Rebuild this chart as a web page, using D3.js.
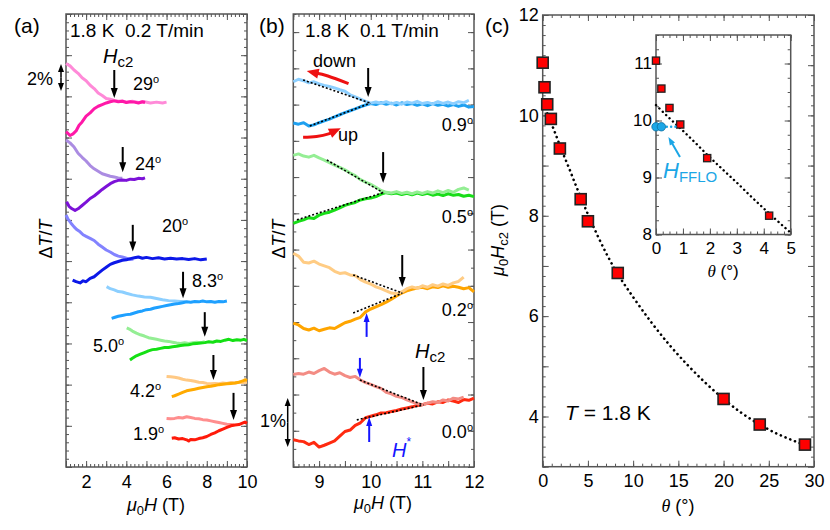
<!DOCTYPE html>
<html><head><meta charset="utf-8">
<script src="https://cdn.jsdelivr.net/npm/d3@7"></script>
<style>
body{margin:0;background:#fff}
svg{display:block}
text{font-family:"Liberation Sans",Arial,Helvetica,sans-serif;white-space:pre}
</style>
</head><body><svg id="chart" width="830" height="530"></svg>
<script>
// ---------------- DATA ----------------
// Panel (a): ΔT/T (offset, arb. units) vs μ0H (T); "down" = field-decreasing sweep (light), "up" = field-increasing sweep (dark)
const aAngles = ["29", "24", "20", "8.3", "5.0", "4.2", "1.9"];
const down29 = [[1.0,9.80],[1.2,9.74],[1.4,9.64],[1.6,9.56],[1.8,9.45],[2.0,9.38],[2.2,9.27],[2.4,9.19],[2.6,9.08],[2.8,9.02],[3.0,8.95],[3.2,8.93],[3.4,8.90],[3.6,8.88],[3.8,8.89],[4.0,8.86],[4.3,8.88],[4.6,8.85],[4.9,8.87],[5.2,8.84],[5.5,8.86],[5.8,8.84],[6.0,8.86]];
const up29 = [[1.0,8.14],[1.1,8.10],[1.2,8.05],[1.35,8.09],[1.5,8.16],[1.65,8.30],[1.8,8.38],[2.0,8.52],[2.2,8.60],[2.4,8.70],[2.6,8.76],[2.8,8.80],[3.0,8.84],[3.2,8.87],[3.4,8.89],[3.6,8.87],[3.8,8.88],[4.0,8.85],[4.2,8.87],[4.4,8.86],[4.6,8.84],[4.8,8.87],[4.93,8.85]];
const down24 = [[1.0,7.94],[1.2,7.87],[1.4,7.77],[1.6,7.62],[1.8,7.52],[2.0,7.43],[2.2,7.32],[2.4,7.24],[2.6,7.18],[2.8,7.12],[3.0,7.09],[3.2,7.06],[3.4,7.04],[3.6,7.02],[3.8,7.01]];
const up24 = [[1.03,6.44],[1.15,6.33],[1.3,6.27],[1.45,6.23],[1.6,6.27],[1.8,6.35],[2.0,6.43],[2.2,6.52],[2.4,6.58],[2.6,6.66],[2.8,6.74],[3.0,6.81],[3.2,6.88],[3.4,6.93],[3.6,6.96],[3.8,6.97],[4.0,6.96],[4.2,6.99],[4.4,6.98],[4.6,7.01],[4.8,7.00],[4.93,7.02]];
const down20 = [[1.0,6.12],[1.1,6.02],[1.25,5.92],[1.4,5.83],[1.55,5.76],[1.7,5.71],[1.85,5.64],[2.0,5.60],[2.2,5.55],[2.4,5.50],[2.6,5.41],[2.8,5.34],[3.0,5.27],[3.2,5.22],[3.4,5.16],[3.6,5.12],[3.8,5.10],[4.0,5.07],[4.2,5.04],[4.35,5.05]];
const up20 = [[1.33,4.54],[1.5,4.50],[1.7,4.47],[1.85,4.52],[2.0,4.50],[2.2,4.58],[2.4,4.62],[2.6,4.70],[2.8,4.78],[3.0,4.85],[3.2,4.92],[3.4,4.96],[3.6,4.99],[3.8,5.02],[4.0,5.03],[4.2,5.06],[4.4,5.08],[4.6,5.10],[4.8,5.07],[5.0,5.09],[5.3,5.06],[5.6,5.08],[5.9,5.05],[6.2,5.07],[6.5,5.05],[6.8,5.06],[7.1,5.04],[7.4,5.06],[7.7,5.03],[8.0,5.05]];
const down83 = [[3.02,4.38],[3.2,4.33],[3.4,4.30],[3.6,4.26],[3.8,4.25],[4.0,4.22],[4.3,4.18],[4.6,4.15],[4.9,4.13],[5.2,4.12],[5.5,4.09],[5.8,4.06],[6.1,4.04],[6.4,4.03],[6.7,4.02],[7.0,4.02]];
const up83 = [[3.27,3.61],[3.4,3.63],[3.6,3.66],[3.8,3.68],[4.0,3.70],[4.2,3.71],[4.4,3.74],[4.6,3.77],[4.8,3.79],[5.0,3.82],[5.2,3.83],[5.4,3.86],[5.6,3.88],[5.8,3.90],[6.0,3.92],[6.2,3.94],[6.4,3.96],[6.6,3.97],[6.8,3.99],[7.0,4.01],[7.2,4.00],[7.4,4.02],[7.6,4.01],[7.8,4.03],[8.0,4.01],[8.2,4.02],[8.4,4.00],[8.6,4.02],[8.8,4.01],[9.0,4.03]];
const down50 = [[4.02,3.38],[4.15,3.35],[4.3,3.30],[4.5,3.25],[4.7,3.21],[4.9,3.18],[5.1,3.14],[5.3,3.12],[5.5,3.10],[5.7,3.08],[5.9,3.06],[6.1,3.05],[6.3,3.03],[6.5,3.01],[6.7,3.00],[6.9,3.02],[7.1,3.00],[7.3,3.02],[7.5,3.03],[7.7,3.02],[7.9,3.04]];
const up50 = [[4.18,2.60],[4.3,2.64],[4.5,2.70],[4.7,2.74],[4.9,2.78],[5.1,2.82],[5.3,2.85],[5.5,2.86],[5.7,2.88],[5.9,2.90],[6.1,2.90],[6.3,2.92],[6.5,2.93],[6.7,2.95],[6.9,2.96],[7.1,2.97],[7.3,2.99],[7.5,3.00],[7.7,3.01],[7.9,3.02],[8.1,3.04],[8.3,3.03],[8.5,3.06],[8.7,3.05],[8.9,3.08],[9.1,3.10],[9.3,3.07],[9.5,3.09],[9.7,3.08],[9.85,3.10],[10.0,3.07]];
const down42 = [[6.0,2.20],[6.2,2.19],[6.4,2.18],[6.6,2.16],[6.8,2.13],[7.0,2.11],[7.2,2.10],[7.4,2.08],[7.6,2.06],[7.8,2.05],[8.0,2.03],[8.2,2.02],[8.4,2.03],[8.6,2.02],[8.8,2.04],[9.0,2.03],[9.2,2.05],[9.4,2.04],[9.6,2.06],[9.8,2.05],[10.0,2.06]];
const up42 = [[6.26,1.71],[6.4,1.73],[6.6,1.77],[6.8,1.81],[7.0,1.85],[7.2,1.87],[7.4,1.89],[7.6,1.91],[7.8,1.93],[8.0,1.95],[8.2,1.96],[8.4,1.98],[8.6,2.00],[8.8,2.01],[9.0,2.02],[9.2,2.03],[9.4,2.04],[9.6,2.06],[9.8,2.09],[9.9,2.12],[10.0,2.10]];
const down19 = [[6.0,1.18],[6.2,1.17],[6.4,1.18],[6.6,1.20],[6.8,1.19],[7.0,1.22],[7.2,1.20],[7.4,1.18],[7.6,1.17],[7.8,1.15],[8.0,1.14],[8.2,1.12],[8.4,1.10],[8.6,1.08],[8.8,1.06],[9.0,1.04],[9.2,1.03],[9.35,1.02]];
const up19 = [[6.26,0.70],[6.4,0.71],[6.6,0.68],[6.8,0.69],[7.0,0.66],[7.1,0.63],[7.2,0.67],[7.4,0.66],[7.6,0.69],[7.8,0.71],[8.0,0.74],[8.2,0.79],[8.4,0.83],[8.6,0.88],[8.8,0.92],[9.0,0.96],[9.2,1.00],[9.4,1.02],[9.6,1.03],[9.8,1.07],[9.9,1.09],[10.0,1.06]];
const aHc2 = [3.40, 3.82, 4.32, 6.82, 7.90, 8.33, 9.33];          // arrow field (T)
const aArrowTop = [9.64, 7.77, 5.88, 4.74, 3.76, 2.72, 1.80];
const aArrowTip = [8.96, 7.16, 5.23, 4.10, 3.16, 2.11, 1.14];

// Panel (b)
const bAngles = ["0.9", "0.5", "0.2", "0.0"];
const down09 = [[8.5,10.63],[8.6,10.70],[8.7,10.66],[8.8,10.60],[8.9,10.63],[9.0,10.57],[9.1,10.53],[9.2,10.50],[9.3,10.46],[9.4,10.41],[9.5,10.37],[9.6,10.27],[9.7,10.21],[9.8,10.15],[9.9,10.09],[10.0,10.04],[10.1,10.07],[10.2,10.03],[10.3,10.08],[10.4,10.02],[10.5,10.06],[10.6,10.01],[10.7,10.07],[10.8,10.04],[10.9,10.09],[11.0,10.03],[11.1,10.06],[11.2,10.02],[11.3,10.08],[11.4,10.03],[11.5,10.07],[11.6,10.02],[11.7,10.08],[11.8,10.05],[11.9,10.12]];
const up09 = [[8.5,9.49],[8.6,9.46],[8.7,9.50],[8.8,9.41],[8.9,9.44],[9.0,9.50],[9.1,9.55],[9.2,9.60],[9.3,9.66],[9.4,9.72],[9.5,9.78],[9.6,9.83],[9.7,9.88],[9.8,9.94],[9.9,9.99],[10.0,10.03],[10.1,10.00],[10.2,10.05],[10.3,10.01],[10.4,10.04],[10.5,9.99],[10.6,10.05],[10.7,10.00],[10.8,10.03],[10.9,9.98],[11.0,10.02],[11.1,9.97],[11.2,10.03],[11.3,9.98],[11.4,10.01],[11.5,9.96],[11.6,10.00],[11.7,9.95],[11.8,9.99],[11.9,9.93],[12.0,9.95]];
const down05 = [[8.5,8.60],[8.6,8.64],[8.7,8.58],[8.8,8.55],[8.9,8.60],[9.0,8.53],[9.1,8.47],[9.2,8.40],[9.3,8.33],[9.4,8.27],[9.5,8.20],[9.6,8.11],[9.7,8.04],[9.8,7.93],[9.9,7.86],[10.0,7.80],[10.1,7.72],[10.2,7.63],[10.3,7.58],[10.4,7.56],[10.5,7.60],[10.6,7.55],[10.7,7.58],[10.8,7.54],[10.9,7.59],[11.0,7.55],[11.1,7.60],[11.2,7.56],[11.3,7.62],[11.4,7.57],[11.5,7.63],[11.6,7.58],[11.7,7.66],[11.8,7.70],[11.9,7.64]];
const up05 = [[8.5,6.72],[8.6,6.78],[8.7,6.82],[8.8,6.88],[8.9,6.86],[9.0,6.95],[9.1,7.00],[9.2,7.03],[9.3,7.09],[9.4,7.15],[9.5,7.22],[9.6,7.26],[9.7,7.30],[9.8,7.37],[9.9,7.40],[10.0,7.42],[10.1,7.46],[10.2,7.53],[10.3,7.57],[10.4,7.54],[10.5,7.56],[10.6,7.52],[10.7,7.55],[10.8,7.51],[10.9,7.56],[11.0,7.52],[11.1,7.55],[11.2,7.50],[11.3,7.53],[11.4,7.49],[11.5,7.54],[11.6,7.50],[11.7,7.52],[11.8,7.47],[11.9,7.50],[12.0,7.46]];
const down02 = [[8.5,5.90],[8.6,5.82],[8.7,5.65],[8.8,5.63],[8.9,5.68],[9.0,5.60],[9.1,5.55],[9.2,5.50],[9.3,5.40],[9.4,5.34],[9.5,5.36],[9.6,5.30],[9.7,5.28],[9.8,5.17],[9.9,5.10],[10.0,5.05],[10.1,4.97],[10.2,4.92],[10.3,4.86],[10.4,4.80],[10.5,4.78],[10.6,4.83],[10.7,4.92],[10.8,4.97],[10.9,4.93],[11.0,5.00],[11.1,4.96],[11.2,5.03],[11.3,4.99],[11.4,5.05],[11.5,5.01],[11.6,5.08],[11.7,5.12],[11.8,5.24]];
const up02 = [[8.5,3.97],[8.6,3.92],[8.7,3.82],[8.8,3.78],[8.9,3.83],[9.0,3.76],[9.1,3.80],[9.2,3.84],[9.3,3.82],[9.4,3.90],[9.5,3.98],[9.6,4.02],[9.7,4.08],[9.8,4.13],[9.9,4.28],[10.0,4.36],[10.1,4.42],[10.2,4.48],[10.3,4.55],[10.4,4.63],[10.5,4.72],[10.6,4.80],[10.7,4.86],[10.8,4.90],[10.9,4.94],[11.0,4.96],[11.1,4.92],[11.2,4.97],[11.3,4.95],[11.4,5.00],[11.5,4.96],[11.6,4.99],[11.7,4.96],[11.8,4.92],[11.9,4.95],[12.0,4.83]];
const down00 = [[8.5,2.55],[8.6,2.58],[8.7,2.56],[8.8,2.62],[8.9,2.58],[9.0,2.66],[9.1,2.72],[9.2,2.62],[9.3,2.56],[9.4,2.60],[9.5,2.52],[9.6,2.47],[9.7,2.50],[9.8,2.40],[9.9,2.33],[10.0,2.28],[10.1,2.22],[10.2,2.17],[10.3,2.06],[10.4,2.02],[10.5,1.95],[10.6,1.92],[10.7,1.85],[10.8,1.80],[10.9,1.75],[11.0,1.72],[11.1,1.76],[11.2,1.80],[11.3,1.78],[11.4,1.85],[11.5,1.82],[11.6,1.90],[11.7,1.88],[11.8,1.93]];
const up00 = [[8.5,0.75],[8.6,0.72],[8.7,0.70],[8.8,0.62],[8.9,0.68],[9.0,0.55],[9.1,0.60],[9.2,0.66],[9.3,0.72],[9.4,0.85],[9.5,0.98],[9.6,1.02],[9.7,1.15],[9.8,1.22],[9.9,1.36],[10.0,1.40],[10.1,1.44],[10.2,1.49],[10.3,1.50],[10.4,1.53],[10.5,1.56],[10.6,1.60],[10.7,1.63],[10.8,1.66],[10.9,1.70],[11.0,1.72],[11.1,1.76],[11.2,1.74],[11.3,1.80],[11.4,1.78],[11.5,1.85],[11.6,1.82],[11.7,1.78],[11.8,1.86],[11.9,1.84],[12.0,1.90]];
// linear guides (dashed) [start, end] for down and up sweeps
const fitDown = [[[8.69,10.68],[9.99,10.04]], [[9.15,8.47],[10.24,7.57]], [[9.66,5.30],[10.61,4.80]], [[9.79,2.40],[11.02,1.71]]];
const fitUp   = [[[8.82,9.41],[9.99,10.04]], [[8.57,6.82],[10.24,7.57]], [[9.66,4.25],[10.61,4.80]], [[9.73,1.30],[11.02,1.71]]];
const bHc2 = [9.95, 10.24, 10.61, 11.02];
const bArrowTop = [11.01, 8.69, 5.85, 2.76];
const bArrowTip = [10.21, 7.84, 4.97, 1.85];
const bHstarUp = [[9.92, 3.59, 4.25], [9.97, 0.69, 1.38]];   // [field, tail, tip]
const bHstarDown = [[9.79, 3.01, 2.46]];

// Panel (c): Hc2 vs angle
const theta = [0, 0.2, 0.5, 0.9, 1.9, 4.2, 5.0, 8.3, 20, 24, 29];
const hc2   = [11.05, 10.56, 10.22, 9.93, 9.34, 8.33, 7.89, 6.86, 4.35, 3.84, 3.44];
const fitTheta = [0, 0.5, 1, 1.5, 1.9, 2.5, 3, 3.5, 4.2, 5, 6, 7, 8.3, 10, 12, 14, 16, 18, 20, 22, 24, 26, 28, 29.2];
const fitH     = [10.27, 10.04, 9.82, 9.59, 9.40, 9.13, 8.91, 8.68, 8.37, 8.03, 7.63, 7.26, 6.84, 6.38, 5.88, 5.43, 5.03, 4.67, 4.35, 4.07, 3.84, 3.65, 3.50, 3.42];
const ffloTheta = [0, 0.2];
const ffloH     = [9.89, 9.89];

// tick labels
const aXTicks = [2, 4, 6, 8, 10];
const bXTicks = [9, 10, 11, 12];
const cXTicks = [0, 5, 10, 15, 20, 25, 30];
const cYTicks = [4, 6, 8, 10, 12];
const iXTicks = [0, 1, 2, 3, 4, 5];
const iYTicks = [8, 9, 10, 11];

// ---------------- DRAWING ----------------
const svg = d3.select("#chart");
const FONT = '"Liberation Sans",Arial,Helvetica,sans-serif';
const AX = "#555";

const xA = d3.scaleLinear([1, 10], [66, 247]);
const yA = d3.scaleLinear([0, 11], [467, 14]);
const xB = d3.scaleLinear([8.5, 12], [293.3, 474]);
const yB = d3.scaleLinear([0, 12.5], [467, 14]);
const xC = d3.scaleLinear([0, 30], [542.7, 814]);
const yC = d3.scaleLinear([3, 12], [466.7, 15]);
const xI = d3.scaleLinear([0, 5], [656, 790.7]);
const yI = d3.scaleLinear([8, 11.5], [234.5, 35]);

const rng = (a, b, s) => d3.range(Math.round((b - a) / s) + 1).map(i => +(a + i * s).toFixed(4));

function drawBox(g, x, y, o) {
  const [x0, x1] = x.range(), [yb, yt] = y.range();
  const ax = (gen, tx, ty, vals, len, labels, fs, pad) => {
    const a = gen.tickValues(vals).tickSize(-len).tickPadding(pad || 5)
      .tickFormat(d => labels && labels.includes(d) ? String(d) : "");
    const s = g.append("g").attr("transform", `translate(${tx},${ty})`).call(a);
    s.select(".domain").remove();
    s.selectAll("line").attr("stroke", AX).attr("stroke-width", 1);
    s.selectAll("text").attr("font-size", fs).attr("fill", "#000").attr("font-family", FONT);
  };
  ax(d3.axisBottom(x), 0, yb, o.xMinor, 3);
  ax(d3.axisBottom(x), 0, yb, o.xMajor, 6, o.xLabels, o.fs, o.xPad);
  ax(d3.axisTop(x), 0, yt, o.xMinor, 3);
  ax(d3.axisTop(x), 0, yt, o.xMajor, 6);
  ax(d3.axisLeft(y), x0, 0, o.yMinor, 3);
  ax(d3.axisLeft(y), x0, 0, o.yMajor, 6, o.yLabels, o.fs, o.yPad);
  ax(d3.axisRight(y), x1, 0, o.yMinor, 3);
  ax(d3.axisRight(y), x1, 0, o.yMajor, 6);
  g.append("rect").attr("x", x0).attr("y", yt).attr("width", x1 - x0).attr("height", yb - yt)
    .attr("fill", "none").attr("stroke", AX).attr("stroke-width", 1.5);
}

function arrow(g, x1, y1, x2, y2, color, sw, hl, hw) {
  const dx = x2 - x1, dy = y2 - y1, L = Math.hypot(dx, dy), ux = dx / L, uy = dy / L;
  const bx = x2 - ux * hl, by = y2 - uy * hl;
  g.append("line").attr("x1", x1).attr("y1", y1).attr("x2", bx + ux).attr("y2", by + uy)
    .attr("stroke", color).attr("stroke-width", sw);
  g.append("path").attr("d", `M${x2},${y2}L${bx - uy * hw / 2},${by + ux * hw / 2}L${bx + uy * hw / 2},${by - ux * hw / 2}Z`)
    .attr("fill", color);
}
function dblArrow(g, x, y1, y2) {
  const m = (y1 + y2) / 2;
  arrow(g, x, m, x, y1, "#000", 1.5, 8, 6);
  arrow(g, x, m, x, y2, "#000", 1.5, 8, 6);
}
function txt(g, x, y, parts, opt = {}) {
  const t = g.append("text").attr("x", x).attr("y", y).attr("font-size", opt.fs || 18)
    .attr("fill", opt.fill || "#000").attr("text-anchor", opt.anchor || "start");
  if (opt.rotate) t.attr("transform", `rotate(-90,${x},${y})`);
  parts.forEach(p => {
    const s = t.append("tspan").text(p.t);
    if (p.it) s.attr("font-style", "italic");
    if (p.fs) s.attr("font-size", p.fs);
    if (p.dy) s.attr("dy", p.dy);
    if (p.ff) s.attr("font-family", p.ff);
  });
  return t;
}
const angleLabel = (g, x, y, a, anchor) => txt(g, x, y, [{t: a}, {t: "o", fs: 11, dy: -7}], {anchor});

// ===== Panel (a) =====
const gA = svg.append("g");
drawBox(gA, xA, yA, {xMinor: rng(1, 10, 0.2), xMajor: rng(1, 10, 1), xLabels: aXTicks,
  yMinor: rng(0, 11, 0.2), yMajor: rng(0, 11, 1), yLabels: [], fs: 18, xPad: 8});
const lineA = d3.line().x(d => xA(d[0])).y(d => yA(d[1]));
const aCols = [["#ff8ad8", "#ff18a8"], ["#ab8ce2", "#7c12d8"], ["#8383ff", "#0c18e8"], ["#8ccfff", "#1ea0ff"],
  ["#94ee94", "#14e014"], ["#ffc984", "#ffaa00"], ["#ff8e8e", "#ff1a0a"]];
const aDown = [down29, down24, down20, down83, down50, down42, down19];
const aUp = [up29, up24, up20, up83, up50, up42, up19];
aDown.forEach((d, i) => {
  gA.append("path").attr("d", lineA(d)).attr("fill", "none").attr("stroke", aCols[i][0])
    .attr("stroke-width", 3).attr("stroke-linejoin", "round");
  gA.append("path").attr("d", lineA(aUp[i])).attr("fill", "none").attr("stroke", aCols[i][1])
    .attr("stroke-width", 3).attr("stroke-linejoin", "round");
  arrow(gA, xA(aHc2[i]), yA(aArrowTop[i]), xA(aHc2[i]), yA(aArrowTip[i]), "#000", 2, 10, 7);
});
const aLabPos = [[133, 90], [135, 170], [162, 232], [192, 287], [93, 352], [130, 397], [133, 440]];
aAngles.forEach((a, i) => angleLabel(gA, aLabPos[i][0], aLabPos[i][1], a));
txt(gA, 14, 33, [{t: "(a)"}], {fs: 21});
txt(gA, 70, 37, [{t: "1.8 K  0.2 T/min"}], {fs: 19});
txt(gA, 103, 63, [{t: "H", it: 1, fs: 20}, {t: "c2", fs: 15, dy: 4}]);
txt(gA, 27, 85, [{t: "2%"}]);
dblArrow(gA, 61, 64, 91);
txt(gA, 52, 239, [{t: "Δ"}, {t: "T", it: 1}, {t: "/"}, {t: "T", it: 1}], {rotate: 1, anchor: "middle"});
txt(gA, 156, 511, [{t: "μ", it: 1}, {t: "0", fs: 13, dy: 4}, {t: "H", it: 1, dy: -4}, {t: " (T)"}], {anchor: "middle"});

// ===== Panel (b) =====
const gB = svg.append("g");
drawBox(gB, xB, yB, {xMinor: rng(8.5, 12, 0.1), xMajor: rng(8.5, 12, 0.5), xLabels: bXTicks,
  yMinor: rng(0, 12.5, 0.5), yMajor: rng(0, 12, 1), yLabels: [], fs: 18, xPad: 8});
const lineB = d3.line().x(d => xB(d[0])).y(d => yB(d[1]));
const bCols = [["#8ccfff", "#1ea0f0"], ["#94ee94", "#18dd18"], ["#ffcc84", "#ffa500"], ["#f38c84", "#ff2a10"]];
const bDown = [down09, down05, down02, down00];
const bUp = [up09, up05, up02, up00];
bDown.forEach((d, i) => {
  gB.append("path").attr("d", lineB(bUp[i])).attr("fill", "none").attr("stroke", bCols[i][1])
    .attr("stroke-width", 3).attr("stroke-linejoin", "round");
  gB.append("path").attr("d", lineB(d)).attr("fill", "none").attr("stroke", bCols[i][0])
    .attr("stroke-width", 3).attr("stroke-linejoin", "round");
  [fitDown[i], fitUp[i]].forEach(f => gB.append("path").attr("d", lineB(f)).attr("fill", "none")
    .attr("stroke", "#000").attr("stroke-width", 1.6).attr("stroke-dasharray", "2,2"));
  arrow(gB, xB(bHc2[i]), yB(bArrowTop[i]), xB(bHc2[i]), yB(bArrowTip[i]), "#000", 2, 10, 7);
});
bHstarUp.concat(bHstarDown).forEach(h => arrow(gB, xB(h[0]), yB(h[1]), xB(h[0]), yB(h[2]), "#1515ff", 2, 9, 6));
const bLabY = [131, 223, 316, 438];
bAngles.forEach((a, i) => angleLabel(gB, 473, bLabY[i], a, "end"));
// red sweep-direction arrows
const redDown = [[9.57, 10.58], [9.17, 10.79], [8.76, 10.93]];
const redUp = [[8.69, 9.10], [8.95, 9.12], [9.2, 9.2], [9.42, 9.35]];
[redDown, redUp].forEach(r => {
  const pts = r.map(d => [xB(d[0]), yB(d[1])]);
  const n = pts.length, e = pts[n - 1], p = pts[n - 2];
  const dx = e[0] - p[0], dy = e[1] - p[1], L = Math.hypot(dx, dy);
  const cut = [e[0] - dx / L * 9, e[1] - dy / L * 9];
  gB.append("path").attr("d", d3.line().curve(d3.curveNatural)(pts.slice(0, n - 1).concat([cut])))
    .attr("fill", "none").attr("stroke", "#ee1111").attr("stroke-width", 3);
  arrow(gB, cut[0], cut[1], e[0], e[1], "#ee1111", 0.1, 12, 10);
});
txt(gB, 313, 67, [{t: "down"}]);
txt(gB, 338, 141, [{t: "up"}]);
txt(gB, 259, 33, [{t: "(b)"}], {fs: 21});
txt(gB, 305, 37, [{t: "1.8 K  0.1 T/min"}], {fs: 19});
txt(gB, 415, 358, [{t: "H", it: 1, fs: 20}, {t: "c2", fs: 15, dy: 4}]);
txt(gB, 392, 457, [{t: "H", it: 1, fs: 20}, {t: "*", fs: 12, dy: -11}], {fill: "#1515ff"});
txt(gB, 260, 427, [{t: "1%"}]);
dblArrow(gB, 287.7, 398, 447);
txt(gB, 285, 239, [{t: "Δ"}, {t: "T", it: 1}, {t: "/"}, {t: "T", it: 1}], {rotate: 1, anchor: "middle"});
txt(gB, 383, 509, [{t: "μ", it: 1}, {t: "0", fs: 13, dy: 4}, {t: "H", it: 1, dy: -4}, {t: " (T)"}], {anchor: "middle"});

// ===== Panel (c) =====
const gC = svg.append("g");
drawBox(gC, xC, yC, {xMinor: rng(0, 30, 1), xMajor: rng(0, 30, 5), xLabels: cXTicks,
  yMinor: rng(3, 12, 0.2), yMajor: rng(3, 12, 1), yLabels: cYTicks, fs: 18, xPad: 8, yPad: 4});
const pts = theta.map((t, i) => [t, hc2[i]]);
const fit = fitTheta.map((t, i) => [t, fitH[i]]);
const lineC = d3.line().curve(d3.curveMonotoneX).x(d => xC(d[0])).y(d => yC(d[1]));
gC.append("path").attr("d", lineC(fit.filter(d => d[0] >= 0.5))).attr("fill", "none").attr("stroke", "#000")
  .attr("stroke-width", 2.6).attr("stroke-linecap", "round").attr("stroke-dasharray", "0.1,5");
gC.selectAll("rect.pt").data(pts).join("rect").attr("class", "pt")
  .attr("x", d => xC(d[0]) - 5.5).attr("y", d => yC(d[1]) - 5.5).attr("width", 11).attr("height", 11)
  .attr("fill", "#ff0000").attr("stroke", "#222").attr("stroke-width", 1.6);
txt(gC, 485, 33, [{t: "(c)"}], {fs: 21});
txt(gC, 565, 420, [{t: "T", it: 1}, {t: " = 1.8 K"}], {fs: 21});
txt(gC, 678, 512, [{t: "θ", it: 1, ff: '"Liberation Serif",serif'}, {t: " (°)"}], {anchor: "middle"});
txt(gC, 504, 240, [{t: "μ", it: 1}, {t: "0", fs: 13, dy: 4}, {t: "H", it: 1, dy: -4}, {t: "c2", fs: 13, dy: 4}, {t: " (T)", dy: -4}], {rotate: 1, anchor: "middle"});

// inset (angles below 5°)
const gI = svg.append("g");
gI.append("rect").attr("x", 656).attr("y", 35).attr("width", 134.7).attr("height", 199.5).attr("fill", "#fff");
drawBox(gI, xI, yI, {xMinor: rng(0, 5, 0.25), xMajor: rng(0, 5, 1), xLabels: iXTicks,
  yMinor: rng(8, 11.5, 0.25), yMajor: rng(8, 11, 1), yLabels: iYTicks, fs: 17, xPad: 7, yPad: 4});
const lineI = d3.line().curve(d3.curveMonotoneX).x(d => xI(d[0])).y(d => yI(d[1]));
gI.append("path").attr("d", lineI(fit.filter(d => d[0] <= 5))).attr("fill", "none").attr("stroke", "#000")
  .attr("stroke-width", 2.4).attr("stroke-linecap", "round").attr("stroke-dasharray", "0.1,4.6");
gI.selectAll("rect.pt").data(pts.filter(d => d[0] < 5)).join("rect").attr("class", "pt")
  .attr("x", d => xI(d[0]) - 3.6).attr("y", d => yI(d[1]) - 3.6).attr("width", 7.2).attr("height", 7.2)
  .attr("fill", "#ff0000").attr("stroke", "#222").attr("stroke-width", 1.3);
const CY = "#1ba6e6";
gI.append("path").attr("d", lineI([[0.4, ffloH[0]], [0.85, ffloH[0]]])).attr("stroke", CY)
  .attr("stroke-width", 2.4).attr("stroke-linecap", "round").attr("stroke-dasharray", "0.1,4.2");
gI.selectAll("circle").data(ffloTheta.map((t, i) => [t, ffloH[i]])).join("circle")
  .attr("cx", d => xI(d[0])).attr("cy", d => yI(d[1])).attr("r", 4.2)
  .attr("fill", CY).attr("stroke", "#0b6d9e").attr("stroke-width", 0.8);
arrow(gI, xI(0.89), yI(9.36), xI(0.46), yI(9.71), CY, 2, 8, 6);
txt(gI, 663, 178, [{t: "H", it: 1, fs: 22}, {t: "FFLO", fs: 15, dy: 4}], {fill: CY});
txt(gI, 723, 277, [{t: "θ", it: 1, ff: '"Liberation Serif",serif'}, {t: " (°)"}], {anchor: "middle", fs: 17});
</script></body></html>
